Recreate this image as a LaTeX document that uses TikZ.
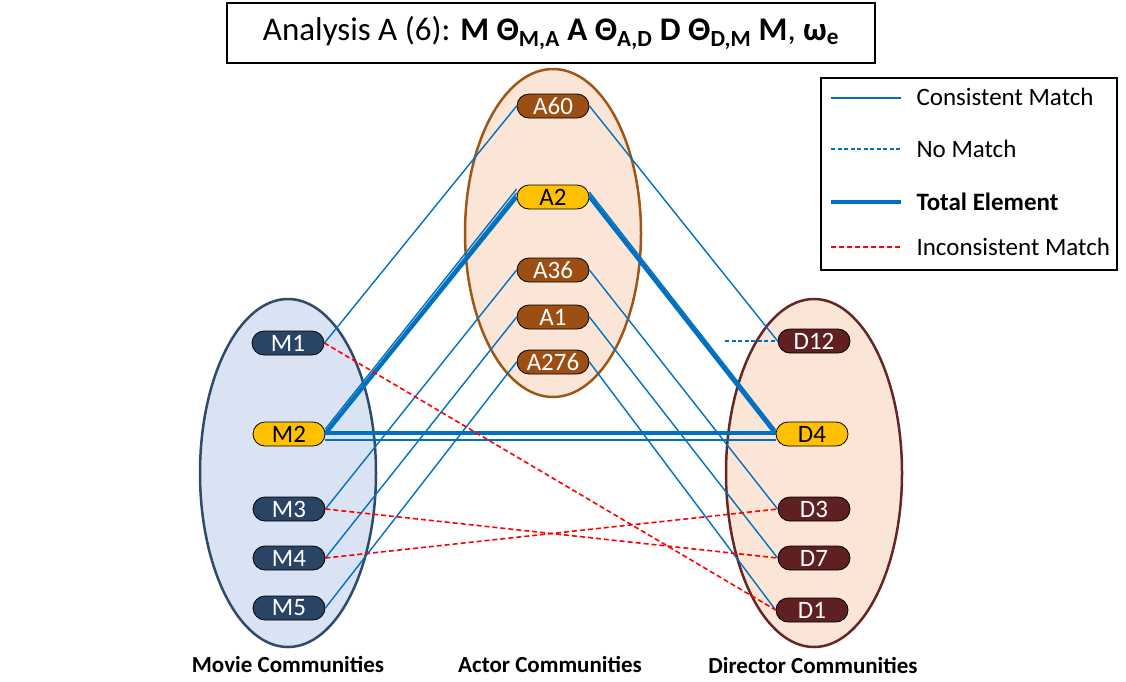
\documentclass[tikz,border=0pt]{standalone}
\usepackage{fontspec}
\setmainfont{Carlito}
\usetikzlibrary{calc}
\definecolor{lblue}{HTML}{0070C0}
\definecolor{mfill}{HTML}{DAE3F3}
\definecolor{mdraw}{HTML}{2F4A6B}
\definecolor{mnodec}{HTML}{2A4466}
\definecolor{peach}{HTML}{FBE5D6}
\definecolor{adraw}{HTML}{9C5718}
\definecolor{anodec}{HTML}{9C4F14}
\definecolor{ddraw}{HTML}{662626}
\definecolor{dnodec}{HTML}{5E2020}
\definecolor{gold}{HTML}{FFC000}
\tikzset{
  comm/.style={rounded corners=12pt, minimum width=72pt, minimum height=24pt, inner sep=0pt, draw=black, line width=0.8pt, font=\fontsize{25}{28}\selectfont, text=white},
  mnode/.style={comm, fill=mnodec},
  anode/.style={comm, fill=anodec},
  dnode/.style={comm, fill=dnodec},
  ynode/.style={comm, fill=gold, text=black},
  cons/.style={draw=lblue, line width=1.4pt},
  total/.style={draw=lblue, line width=3.6pt},
  nomatch/.style={draw=lblue, line width=1.4pt, dash pattern=on 4pt off 2.5pt},
  incons/.style={draw=red, line width=1.6pt, dash pattern=on 5pt off 3pt},
  group/.style={line width=2.5pt},
  legtext/.style={anchor=west, font=\fontsize{25}{28}\selectfont},
  caption/.style={font=\fontsize{23}{26}\selectfont\bfseries}
}
\begin{document}
\begin{tikzpicture}[x=1pt,y=-1pt]
\path[fill=white] (0,0) rectangle (1126,681);
% title
\node[draw=black, line width=2pt, minimum width=648pt, minimum height=60pt, inner sep=0pt, font=\fontsize{33}{38}\selectfont] (title) at (551,33)
  {Analysis A (6): \textbf{M Θ\textsubscript{M,A} A Θ\textsubscript{A,D} D Θ\textsubscript{D,M} M}, \textbf{ω\textsubscript{e}}};
% legend
\node[draw=black, line width=2pt, minimum width=296pt, minimum height=192pt, inner sep=0pt] (legend) at (969,174) {};
\coordinate (l1a) at (831,98);  \coordinate (l1b) at (901,98);
\coordinate (l2a) at (831,149); \coordinate (l2b) at (901,149);
\coordinate (l3a) at (831,202); \coordinate (l3b) at (901,202);
\coordinate (l4a) at (831,247); \coordinate (l4b) at (901,247);
\draw[cons] (l1a) -- (l1b);
\draw[nomatch] (l2a) -- (l2b);
\draw[total] (l3a) -- (l3b);
\draw[incons] (l4a) -- (l4b);
\node[legtext] (t1) at (913,97) {Consistent Match};
\node[legtext] (t2) at (913,149) {No Match};
\node[legtext] (t3) at (913,202) {\textbf{Total Element}};
\node[legtext] (t4) at (913,247) {Inconsistent Match};
% groups
\draw[group, draw=mdraw, fill=mfill] (288,473) ellipse [x radius=88, y radius=174];
\draw[group, draw=adraw, fill=peach] (553,233) ellipse [x radius=88, y radius=164];
\draw[group, draw=ddraw, fill=peach] (814,473) ellipse [x radius=88, y radius=174];
% nodes
\node[mnode] (M1) at (288,343) {M1};
\node[ynode] (M2) at (289,434) {M2};
\node[mnode] (M3) at (289,509) {M3};
\node[mnode] (M4) at (289,558) {M4};
\node[mnode] (M5) at (289,608) {M5};
\node[anode] (A60) at (553,106) {A60};
\node[ynode] (A2) at (553,197) {A2};
\node[anode] (A36) at (553,270) {A36};
\node[anode] (A1) at (553,317) {A1};
\node[anode] (A276) at (553,362) {A276};
\node[dnode] (D12) at (814,341) {D12};
\node[ynode] (D4) at (812,434) {D4};
\node[dnode] (D3) at (814,509) {D3};
\node[dnode] (D7) at (814,558) {D7};
\node[dnode] (D1) at (812,610) {D1};
% consistent matches
\draw[cons] (M1.east) -- (A60.west);
\draw[cons] (M3.east) -- (A36.west);
\draw[cons] (M4.east) -- (A1.west);
\draw[cons] (M5.east) -- (A276.west);
\draw[cons] (A60.east) -- (D12.west);
\draw[cons] (A36.east) -- (D3.west);
\draw[cons] (A1.east) -- (D7.west);
\draw[cons] (A276.east) -- (D1.west);
% total element triangle
\draw[cons] ([yshift=5pt]M2.east) -- ([yshift=8pt]A2.west);
\draw[cons] ([yshift=2.5pt]M2.east) -- ([yshift=4pt]A2.west);
\draw[total] (M2.east) -- (A2.west);
\draw[cons] ([yshift=5pt]A2.east) -- ([yshift=4pt]D4.west);
\draw[cons] ([yshift=2.5pt]A2.east) -- ([yshift=2pt]D4.west);
\draw[total] (A2.east) -- (D4.west);
\draw[total] ([yshift=1pt]M2.east) -- ([yshift=1pt]D4.west);
\draw[cons] ([yshift=-6pt]M2.east) -- ([yshift=-6pt]D4.west);
% no match
\coordinate (nm) at (725,341);
\draw[nomatch] (nm) -- (D12.west);
% inconsistent
\draw[incons] (M1.east) -- (D1.west);
\draw[incons] (M3.east) -- (D7.west);
\draw[incons] (M4.east) -- (D3.west);
% captions
\node[caption] (cm) at (288,664) {Movie Communities};
\node[caption] (ca) at (550,664) {Actor Communities};
\node[caption] (cd) at (813,665) {Director Communities};
\end{tikzpicture}
\end{document}
